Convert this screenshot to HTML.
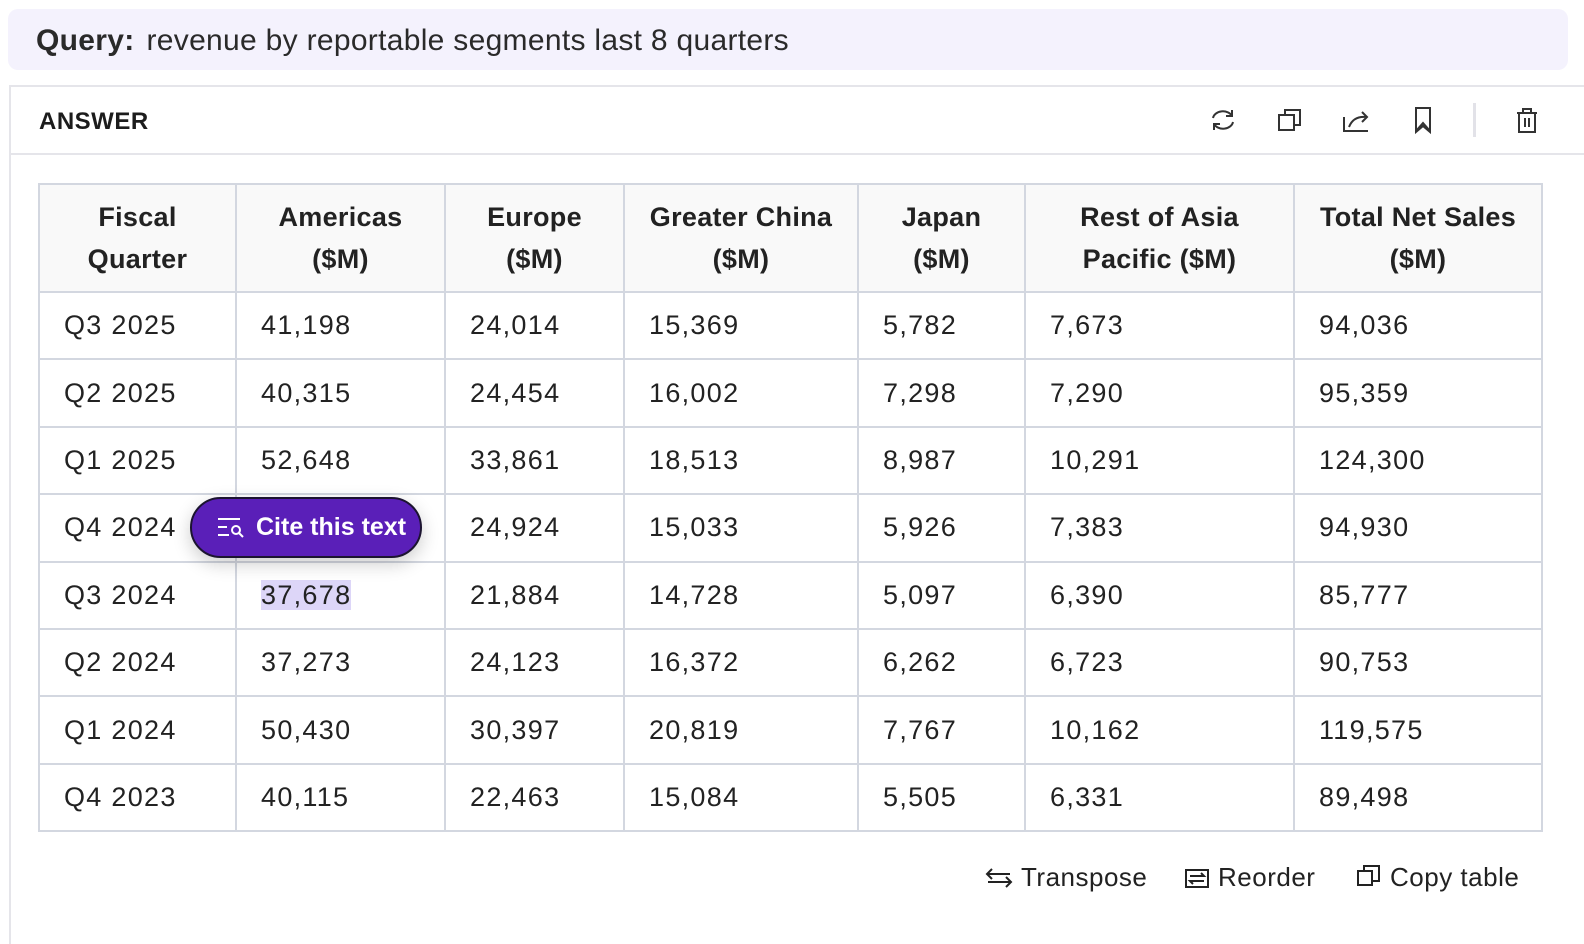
<!DOCTYPE html>
<html><head><meta charset="utf-8">
<style>
*{box-sizing:border-box;margin:0;padding:0}
html,body{width:1584px;height:944px;overflow:hidden}
body{background:#fff;font-family:"Liberation Sans",sans-serif;color:#222;position:relative}
#query{position:absolute;left:8px;top:9px;width:1560px;height:61px;background:#f4f2fd;border-radius:10px;font-size:30px;line-height:63px;padding-left:28px;color:#2a2a2a;letter-spacing:0.3px}
#query b{font-weight:bold;margin-right:12px}
#panel{position:absolute;left:9px;top:85px;width:1590px;height:900px;border:2px solid #e5e5ea;border-right:none;border-bottom:none}
#hdr{position:absolute;left:0;top:0;width:100%;height:68px;border-bottom:2px solid #e5e5ea}
#hdr .t{position:absolute;left:28px;top:21px;font-size:24px;font-weight:bold;letter-spacing:.5px;color:#1c1c1c}
.ic{position:absolute;top:18px}
table{position:absolute;left:38px;top:183px;width:1503px;table-layout:fixed;border-collapse:collapse;font-size:27px}
td,th{border:2px solid #d3d7e0;padding:0 0 0 24px;text-align:left;font-weight:normal;color:#222;letter-spacing:1.3px}
tr{height:67.4px}
tr.h{height:108px}
th{background:#f9f9f9;font-weight:bold;text-align:center;padding:0;line-height:42px;letter-spacing:0.3px}
.hl{background:#ddd6f8}
#cite{position:absolute;left:190px;top:497px;width:232px;height:61px;background:#5a1fb8;border:2px solid #1c1430;border-radius:31px;color:#fff;font-size:25px;font-weight:bold;line-height:57px;padding-left:64px;box-shadow:0 6px 18px rgba(0,0,0,.2)}
.btn{position:absolute;top:862px;font-size:26px;color:#222;line-height:30px;letter-spacing:0.5px}
</style></head><body>
<div id="query"><b>Query:</b>revenue by reportable segments last 8 quarters</div>
<div id="panel">
 <div id="hdr">
  <div class="t">ANSWER</div>
  <svg class="ic" style="left:1197px" width="30" height="30" viewBox="0 0 30 30" fill="none" stroke="#333" stroke-width="2"><path d="M5 13a10 8 0 0 1 19-2M25 17a10 8 0 0 1-19 2M24 5v6h-6M6 25v-6h6"/></svg>
  <svg class="ic" style="left:1264px" width="30" height="30" viewBox="0 0 30 30" fill="none" stroke="#333" stroke-width="2"><rect x="4" y="10" width="15" height="15"/><path d="M10 10V5h15v15h-6"/></svg>
  <svg class="ic" style="left:1330px" width="30" height="30" viewBox="0 0 30 30" fill="none" stroke="#333" stroke-width="2"><path d="M3 12v14h24M8 22c3-8 9-11 18-10M21 7l5 5-5 5"/></svg>
  <svg class="ic" style="left:1397px" width="30" height="30" viewBox="0 0 30 30" fill="none" stroke="#333" stroke-width="2"><path d="M8 3h14v24l-7-6-7 6zM8 26l7-8 7 8"/></svg>
  <div style="position:absolute;left:1462px;top:16px;width:3px;height:34px;background:#e2e2e8"></div>
  <svg class="ic" style="left:1501px" width="30" height="30" viewBox="0 0 30 30" fill="none" stroke="#333" stroke-width="2"><path d="M5 8h20M11 8V4h8v4M7 8v19h16V8M13 13v9M17 13v9"/></svg>
 </div>
</div>
<table>
<colgroup><col style="width:197px"><col style="width:209px"><col style="width:179px"><col style="width:234px"><col style="width:167px"><col style="width:269px"><col style="width:248px"></colgroup>
<tr class="h"><th>Fiscal<br>Quarter</th><th>Americas<br>($M)</th><th>Europe<br>($M)</th><th>Greater China<br>($M)</th><th>Japan<br>($M)</th><th>Rest of Asia<br>Pacific ($M)</th><th>Total Net Sales<br>($M)</th></tr>
<tr><td>Q3 2025</td><td>41,198</td><td>24,014</td><td>15,369</td><td>5,782</td><td>7,673</td><td>94,036</td></tr>
<tr><td>Q2 2025</td><td>40,315</td><td>24,454</td><td>16,002</td><td>7,298</td><td>7,290</td><td>95,359</td></tr>
<tr><td>Q1 2025</td><td>52,648</td><td>33,861</td><td>18,513</td><td>8,987</td><td>10,291</td><td>124,300</td></tr>
<tr><td>Q4 2024</td><td>39,330</td><td>24,924</td><td>15,033</td><td>5,926</td><td>7,383</td><td>94,930</td></tr>
<tr><td>Q3 2024</td><td><span class="hl">37,678</span></td><td>21,884</td><td>14,728</td><td>5,097</td><td>6,390</td><td>85,777</td></tr>
<tr><td>Q2 2024</td><td>37,273</td><td>24,123</td><td>16,372</td><td>6,262</td><td>6,723</td><td>90,753</td></tr>
<tr><td>Q1 2024</td><td>50,430</td><td>30,397</td><td>20,819</td><td>7,767</td><td>10,162</td><td>119,575</td></tr>
<tr><td>Q4 2023</td><td>40,115</td><td>22,463</td><td>15,084</td><td>5,505</td><td>6,331</td><td>89,498</td></tr>
</table>
<div id="cite"><svg style="position:absolute;left:25px;top:17px" width="30" height="24" viewBox="0 0 30 24" fill="none" stroke="#fff" stroke-width="2"><path d="M1 3h22M1 11h9M1 19h11"/><circle cx="19" cy="14" r="4"/><path d="M22 17l4 4"/></svg>Cite this text</div>
<div class="btn" style="left:985px"><svg width="28" height="22" viewBox="0 0 28 22" fill="none" stroke="#222" stroke-width="2" style="vertical-align:-3px;margin-right:8px"><path d="M3 7h22M7 2L2 7l5 5M25 15H3M21 10l5 5-5 5"/></svg>Transpose</div>
<div class="btn" style="left:1184px"><svg width="26" height="24" viewBox="0 0 26 24" fill="none" stroke="#222" stroke-width="2" style="vertical-align:-3px;margin-right:8px"><rect x="2" y="5" width="22" height="17"/><path d="M6 11h14l-3-3M20 16H6l3 3"/></svg>Reorder</div>
<div class="btn" style="left:1356px"><svg width="26" height="26" viewBox="0 0 26 26" fill="none" stroke="#222" stroke-width="2" style="vertical-align:-3px;margin-right:8px"><rect x="2" y="8" width="14" height="14"/><path d="M8 8V3h15v15h-7"/></svg>Copy table</div>
</body></html>
